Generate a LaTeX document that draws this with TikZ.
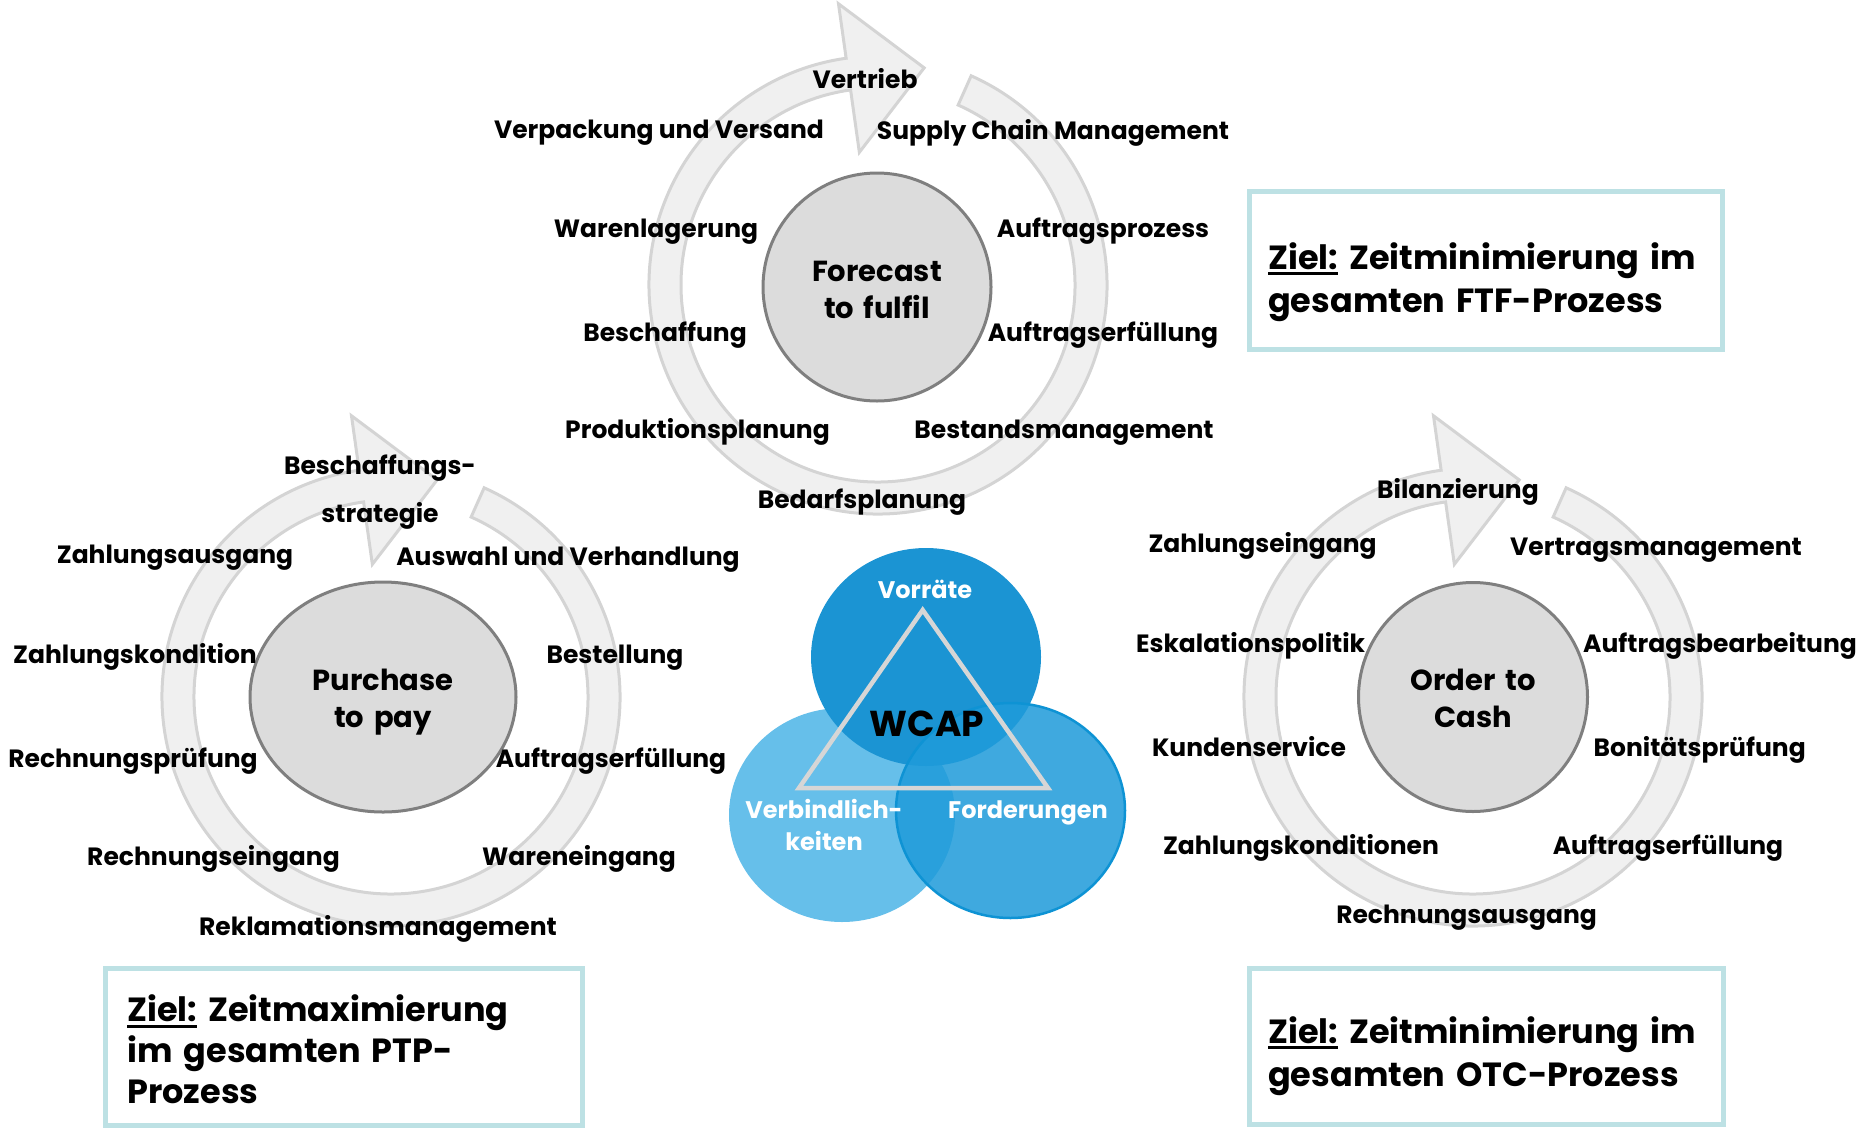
\documentclass[tikz,border=0pt]{standalone}
\usepackage{fontspec}
\setmainfont{Poppins}
\usetikzlibrary{shapes.geometric}
\definecolor{ringline}{HTML}{D4D4D4}
\definecolor{ringfill}{HTML}{F0F0F0}
\definecolor{cfill}{HTML}{DCDCDC}
\definecolor{cline}{HTML}{7F7F7F}
\definecolor{boxline}{HTML}{BDE1E4}
\definecolor{vtop}{HTML}{1B94D3}
\definecolor{vright}{HTML}{1F9BDA}
\definecolor{vleft}{HTML}{66BFEA}
\definecolor{vrim}{HTML}{0E93D4}
\definecolor{tri}{HTML}{D6D6D6}
\newcommand{\zul}[1]{\setbox0=\hbox{#1}\rlap{\rule[-6pt]{\wd0}{3pt}}\box0\relax}
\tikzset{
  lbl/.style={font={\fontsize{25}{28}\selectfont\bfseries}, anchor=base, inner sep=0pt},
  lbltwo/.style={font={\fontsize{25}{48}\selectfont\bfseries}, anchor=base, inner sep=0pt, text width=220pt, align=center},
  ctext/.style={font={\fontsize{29}{37}\selectfont\bfseries}, anchor=base, inner sep=0pt, text width=220pt, align=center},
  ztext/.style={font={\fontsize{33.5}{43}\selectfont\bfseries}, anchor=base west, inner sep=0pt, text width=440pt, align=left},
  zbox/.style={draw=boxline, line width=5pt, fill=white, anchor=north west, inner sep=0pt, outer sep=0pt},
  proc/.style={fill=cfill, draw=cline, line width=3pt, inner sep=0pt},
  ringshape/.style={fill=ringfill, draw=ringline, line width=3pt, line join=miter},
  vlbl/.style={font={\fontsize{24}{32}\selectfont\bfseries}, text=white, anchor=base, inner sep=0pt, text width=200pt, align=center},
  cyclearrow/.pic={
    \path[ringshape] (66:229) arc[start angle=66, end angle=-262, radius=229]
      -- (98:284) -- (78:222) -- (98:134) -- (98:197)
      arc[start angle=-262, end angle=66, radius=197] -- cycle;
  }
}
\begin{document}
\begin{tikzpicture}[x=1pt,y=1pt]
\useasboundingbox (0,0) rectangle (1865,-1130);

% ---------- cycle rings ----------
\pic at (878,-285) {cyclearrow};
\pic at (391,-697) {cyclearrow};
\pic at (1473,-697) {cyclearrow};

% ---------- centre shapes ----------
\node[proc, circle, minimum size=228pt] (ftf) at (877,-287) {};
\node[proc, ellipse, minimum width=266pt, minimum height=230pt] (ptp) at (383,-697) {};
\node[proc, circle, minimum size=229pt] (otc) at (1473,-697) {};
\node[ctext] (ftft) at (877,-281.7) {Forecast\\to fulfil};
\node[ctext] (ptpt) at (383,-690) {Purchase\\to pay};
\node[ctext] (otct) at (1473,-690) {Order to\\Cash};

% ---------- FTF labels ----------
\node[lbl] (f1) at (865,-88.5) {Vertrieb};
\node[lbl] (f2) at (659,-138) {Verpackung und Versand};
\node[lbl] (f3) at (1053,-139) {Supply Chain Management};
\node[lbl] (f4) at (656,-237.5) {Warenlagerung};
\node[lbl] (f5) at (1103,-237.5) {Auftragsprozess};
\node[lbl] (f6) at (665,-341) {Beschaffung};
\node[lbl] (f7) at (1103,-341) {Auftragserf\"ullung};
\node[lbl] (f8) at (697.5,-438.5) {Produktionsplanung};
\node[lbl] (f9) at (1064,-438.5) {Bestandsmanagement};
\node[lbl] (f10) at (862,-508) {Bedarfsplanung};

% ---------- PTP labels ----------
\node[lbltwo] (p1) at (380,-474) {Beschaffungs-\\strategie};
\node[lbl] (p2) at (175,-563) {Zahlungsausgang};
\node[lbl] (p3) at (568,-565) {Auswahl und Verhandlung};
\node[lbl] (p4) at (135,-663) {Zahlungskondition};
\node[lbl] (p5) at (615,-663) {Bestellung};
\node[lbl] (p6) at (133,-767.5) {Rechnungspr\"ufung};
\node[lbl] (p7) at (611,-767.5) {Auftragserf\"ullung};
\node[lbl] (p8) at (213.5,-865) {Rechnungseingang};
\node[lbl] (p9) at (579,-865) {Wareneingang};
\node[lbl] (p10) at (378,-935) {Reklamationsmanagement};

% ---------- OTC labels ----------
\node[lbl] (o1) at (1458,-498.5) {Bilanzierung};
\node[lbl] (o2) at (1262.6,-552.5) {Zahlungseingang};
\node[lbl] (o3) at (1656,-555) {Vertragsmanagement};
\node[lbl] (o4) at (1250.6,-652) {Eskalationspolitik};
\node[lbl] (o5) at (1720,-652) {Auftragsbearbeitung};
\node[lbl] (o6) at (1249,-756.5) {Kundenservice};
\node[lbl] (o7) at (1699.7,-756.5) {Bonit\"atspr\"ufung};
\node[lbl] (o8) at (1301,-854) {Zahlungskonditionen};
\node[lbl] (o9) at (1668,-854) {Auftragserf\"ullung};
\node[lbl] (o10) at (1466.6,-923) {Rechnungsausgang};

% ---------- WCAP venn ----------
\path[fill=vleft] (842,-815) ellipse [x radius=113, y radius=107];
\path[fill=vtop] (926,-657) ellipse [x radius=115, y radius=109];
\path[fill=vright, fill opacity=0.86, draw=vrim, line width=2.5pt] (1010.5,-810.5) ellipse [x radius=114.5, y radius=107.5];
\coordinate (ta) at (922.7,-610);
\coordinate (tb) at (1048,-788);
\coordinate (tc) at (799,-788);
\draw[tri, line width=4.5pt, line join=miter] (ta) -- (tb) -- (tc) -- cycle;
\node[vlbl] (vv) at (925,-598) {Vorr\"ate};
\node[vlbl] (vf) at (1028,-818) {Forderungen};
\node[vlbl] (vb) at (824,-818) {Verbindlich-\\keiten};
\node[font={\fontsize{36}{40}\selectfont\bfseries}, anchor=base, inner sep=0pt] (wcap) at (927,-736) {WCAP};

% ---------- goal boxes ----------
\node[zbox, minimum width=473pt, minimum height=158pt] (bftf) at (1249.5,-191.5) {};
\node[ztext] (tftf) at (1268,-269.3) {\zul{Ziel:} Zeitminimierung im\\gesamten FTF-Prozess};
\node[zbox, minimum width=477pt, minimum height=157pt] (bptp) at (105.5,-968.5) {};
\node[ztext, text width=460pt, font={\fontsize{33.5}{41}\selectfont\bfseries}] (tptp) at (127,-1021.7) {\zul{Ziel:} Zeitmaximierung\\im gesamten PTP-\\Prozess};
\node[zbox, minimum width=474pt, minimum height=156pt] (botc) at (1249.5,-968.5) {};
\node[ztext] (totc) at (1268,-1043.3) {\zul{Ziel:} Zeitminimierung im\\gesamten OTC-Prozess};
\end{tikzpicture}
\end{document}
